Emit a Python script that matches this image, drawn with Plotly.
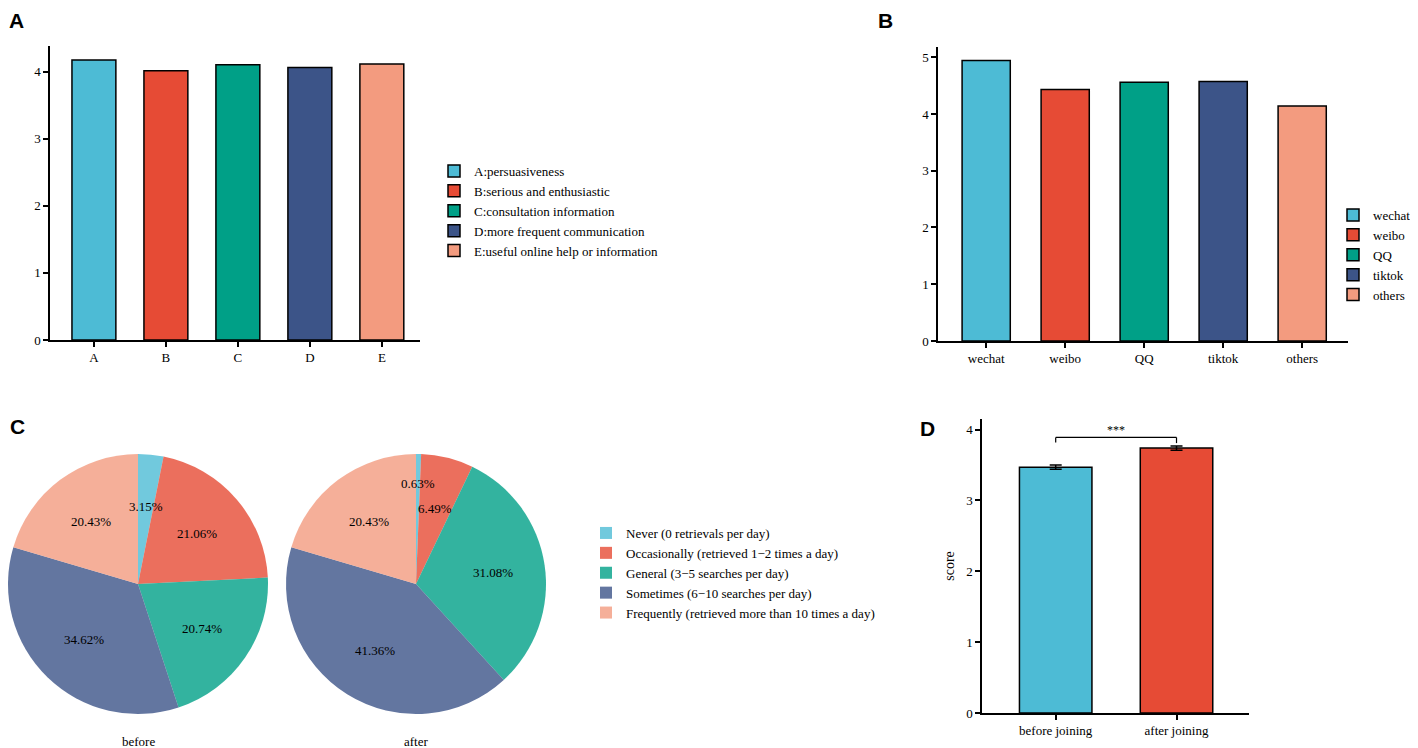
import math
import plotly.graph_objects as go

W, H = 1418, 748
OFF = 8  # page body margin in the browser

# panel A
a_cats = ["A", "B", "C", "D", "E"]
a_names = ["A:persuasiveness", "B:serious and enthusiastic", "C:consultation information",
           "D:more frequent communication", "E:useful online help or information"]
a_vals = [4.17, 4.01, 4.10, 4.06, 4.11]

# panel B
b_cats = ["wechat", "weibo", "QQ", "tiktok", "others"]
b_vals = [4.94, 4.43, 4.56, 4.57, 4.14]

# panel C
pie_labels = ["Never (0 retrievals per day)", "Occasionally (retrieved 1\u22122 times a day)",
              "General (3\u22125 searches per day)", "Sometimes (6\u221210 searches per day)",
              "Frequently (retrieved more than 10 times a day)"]
before_pct = [3.15, 21.06, 20.74, 34.62, 20.43]
after_pct = [0.63, 6.49, 31.08, 41.36, 20.43]

# panel D
d_cats = ["before joining", "after joining"]
d_vals = [3.47, 3.74]
d_err = [0.03, 0.03]

colors = ["#4DBBD5", "#E64B35", "#00A087", "#3C5488", "#F39B7F"]
pie_colors = ["rgba(77,187,213,0.8)", "rgba(230,75,53,0.8)", "rgba(0,160,135,0.8)",
              "rgba(60,84,136,0.8)", "rgba(243,155,127,0.8)"]

SERIF = "Liberation Serif"
SANS = "Liberation Sans"


def px(x):
    return (x - OFF) / W


def py(y):
    return 1 - (y - OFF) / H


fig = go.Figure()

for cat, name, v, c in zip(a_cats, a_names, a_vals, colors):
    fig.add_trace(go.Bar(x=[cat], y=[v], name=name, width=0.61, legend="legend",
                         marker=dict(color=c, line=dict(color="black", width=1.5)),
                         xaxis="x", yaxis="y"))

for cat, v, c in zip(b_cats, b_vals, colors):
    fig.add_trace(go.Bar(x=[cat], y=[v], name=cat, width=0.61, legend="legend2",
                         marker=dict(color=c, line=dict(color="black", width=1.5)),
                         xaxis="x2", yaxis="y2"))

fig.add_trace(go.Bar(x=d_cats, y=d_vals, width=0.6, showlegend=False,
                     marker=dict(color=colors[:2], line=dict(color="black", width=1.5)),
                     error_y=dict(type="data", array=d_err, color="black", thickness=1.5, width=6),
                     xaxis="x3", yaxis="y3"))

# pies: centre (px) and radius
R = 130
pies = [("before", before_pct, OFF + R, 584), ("after", after_pct, 416, 584)]
label_k = {("after", 0): 0.77}
annotations = []
for tag, vals, cx, cy in pies:
    fig.add_trace(go.Pie(labels=pie_labels, values=vals, sort=False, direction="clockwise",
                         rotation=0, textinfo="none", legend="legend3",
                         marker=dict(colors=pie_colors, line=dict(width=0)),
                         domain=dict(x=[px(cx - R), px(cx + R)], y=[py(cy + R), py(cy - R)])))
    total = sum(vals)
    cum = 0
    for i, v in enumerate(vals):
        mid = (cum + v / 2) / total * 2 * math.pi
        cum += v
        k = label_k.get((tag, i), 0.6)
        annotations.append(dict(x=px(cx + k * R * math.sin(mid)), y=py(cy - k * R * math.cos(mid)),
                                xref="paper", yref="paper", text=f"{v:.2f}%", showarrow=False,
                                xanchor="center", yanchor="middle",
                                font=dict(family=SERIF, size=13, color="black")))
    annotations.append(dict(x=px(cx), y=py(741), xref="paper", yref="paper", text=tag,
                            showarrow=False, xanchor="center", yanchor="middle",
                            font=dict(family=SERIF, size=13, color="black")))

# significance bracket in D
top = max(v + e for v, e in zip(d_vals, d_err))
yb = top + 0.12
shapes = [
    dict(type="line", xref="x3", yref="y3", x0=0, x1=1, y0=yb, y1=yb, line=dict(color="black", width=1.2)),
    dict(type="line", xref="x3", yref="y3", x0=0, x1=0, y0=yb, y1=yb - 0.07, line=dict(color="black", width=1.2)),
    dict(type="line", xref="x3", yref="y3", x0=1, x1=1, y0=yb, y1=yb - 0.08, line=dict(color="black", width=1.2)),
]
annotations.append(dict(x=0.5, y=yb, xref="x3", yref="y3", text="***", showarrow=False,
                        yanchor="bottom", yshift=-2, font=dict(family=SERIF, size=12, color="black")))

for letter, x, y in [("A", 16, 21), ("B", 885, 21), ("C", 17, 426), ("D", 927, 428)]:
    annotations.append(dict(x=px(x), y=py(y), xref="paper", yref="paper",
                            text=f"<b>{letter}</b>", showarrow=False, xanchor="center", yanchor="middle",
                            font=dict(family=SANS, size=21, color="black")))

axis_common = dict(showline=True, linecolor="black", linewidth=1.5, ticks="outside", ticklen=5,
                   tickwidth=1.5, tickcolor="black", showgrid=False, zeroline=False,
                   tickfont=dict(family=SERIF, size=13, color="black"))

legend_common = dict(font=dict(family=SERIF, size=13, color="black"), bgcolor="rgba(0,0,0,0)",
                     yanchor="middle", xanchor="left", tracegroupgap=0, itemclick=False)

fig.update_layout(
    width=W, height=H, margin=dict(l=0, r=0, t=0, b=0, autoexpand=False),
    paper_bgcolor="white", plot_bgcolor="white", barmode="overlay",
    xaxis=dict(domain=[px(50), px(420)], range=[-0.61, 4.53], anchor="y", **axis_common),
    yaxis=dict(domain=[py(340), py(46)], range=[0, 4.38], anchor="x", dtick=1, **axis_common),
    xaxis2=dict(domain=[px(938), px(1348)], range=[-0.61, 4.58], anchor="y2", **axis_common),
    yaxis2=dict(domain=[py(341), py(47)], range=[0, 5.18], anchor="x2", dtick=1, **axis_common),
    xaxis3=dict(domain=[px(982), px(1249)], range=[-0.61, 1.6], anchor="y3", **axis_common),
    yaxis3=dict(domain=[py(713), py(419)], range=[0, 4.15], anchor="x3", dtick=1,
                title=dict(text="score", font=dict(family=SERIF, size=14, color="black"), standoff=8),
                **axis_common),
    legend=dict(x=px(434), y=py(211), **legend_common),
    legend2=dict(x=px(1333), y=py(255), **legend_common),
    legend3=dict(x=px(586), y=py(573), **legend_common),
    annotations=annotations, shapes=shapes,
)

fig.write_html("out.html")
